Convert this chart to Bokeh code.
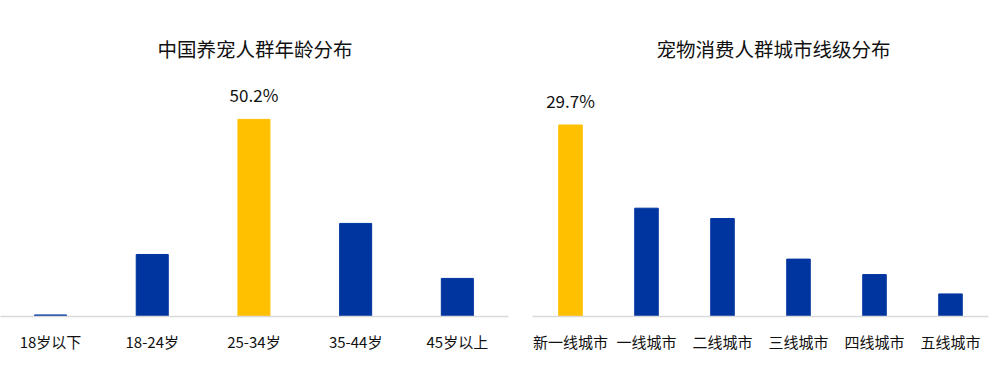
from bokeh.plotting import figure
from bokeh.layouts import row
from bokeh.models import Range1d, FixedTicker, ColumnDataSource, Title
from bokeh.core.properties import value
from bokeh.embed import file_html
from bokeh.resources import INLINE

# ---- data ----
age_categories = ["18岁以下", "18-24岁", "25-34岁", "35-44岁", "45岁以上"]
age_values = [0.4, 15.8, 50.2, 23.7, 9.7]
city_categories = ["新一线城市", "一线城市", "二线城市", "三线城市", "四线城市", "五线城市"]
city_values = [29.7, 16.8, 15.2, 8.9, 6.5, 3.5]
left_title = "中国养宠人群年龄分布"
right_title = "宠物消费人群城市线级分布"

BLUE = "#0035A0"
YELLOW = "#FFC000"
FONT = value("Noto Sans CJK SC")


def make_panel(cats, vals, title, x_range, y_end, width, border_left, border_right,
               border_bottom, title_offset, bar_width):
    hi = vals.index(max(vals))
    xs = list(range(len(cats)))
    colors = [YELLOW if i == hi else BLUE for i in xs]
    src = ColumnDataSource(dict(x=xs, top=vals, color=colors))
    p = figure(width=width, height=368, x_range=x_range, y_range=Range1d(0, y_end),
               output_backend="svg", toolbar_location=None,
               min_border_left=border_left, min_border_right=border_right,
               min_border_top=80, min_border_bottom=border_bottom)
    p.title = Title(text=title, align="left", text_font="Noto Sans CJK SC",
                    text_font_size="19.5px", text_font_style="normal",
                    text_color="#111111", offset=title_offset, standoff=35)
    p.vbar(x="x", top="top", width=bar_width, color="color", source=src)
    lab = ColumnDataSource(dict(x=[hi], y=[vals[hi]], t=[f"{vals[hi]}%"]))
    p.text(x="x", y="y", text="t", source=lab, text_align="center",
           text_baseline="bottom", y_offset=-12, text_font=FONT,
           text_font_size="17px", text_color="#111111")
    p.yaxis.visible = False
    p.xgrid.visible = False
    p.ygrid.visible = False
    p.outline_line_color = None
    ax = p.xaxis[0]
    ax.ticker = FixedTicker(ticks=xs)
    ax.major_label_overrides = {i: c for i, c in enumerate(cats)}
    ax.major_tick_line_color = None
    ax.minor_tick_line_color = None
    ax.axis_line_color = "#D9D9D9"
    ax.axis_line_width = 1.5
    ax.major_label_standoff = 8
    ax.major_label_text_font = "Noto Sans CJK SC"
    ax.major_label_text_font_size = "15px"
    ax.major_label_text_color = "#111111"
    return p


left = make_panel(age_categories, age_values, left_title,
                  Range1d(-0.492, 4.503), 60.1, 524, 0, 16, 52, 157, 0.315)
right = make_panel(city_categories, city_values, right_title,
                   Range1d(-0.5, 5.5), 36.6, 466, 8, 2, 50, 124, 0.31)

layout = row(left, right)
open("out.html", "w").write(file_html(layout, INLINE))
